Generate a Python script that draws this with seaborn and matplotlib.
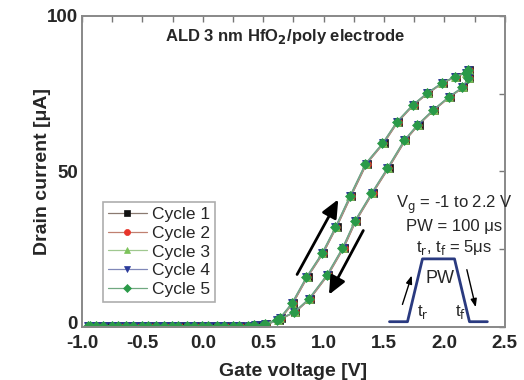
import numpy as np
import pandas as pd
import matplotlib
matplotlib.use("Agg")
import matplotlib.pyplot as plt
import matplotlib.transforms as mtrans
import seaborn as sns

# ---- data ----
v_up = [-0.95, -0.82, -0.70, -0.57, -0.45, -0.32, -0.20, -0.07, 0.05, 0.18, 0.30, 0.43,
        0.52, 0.64, 0.74, 0.86, 0.99, 1.10, 1.22, 1.35, 1.49, 1.61, 1.74, 1.86, 1.98,
        2.09, 2.18, 2.20]
i_up = [0.3, 0.2, 0.3, 0.2, 0.3, 0.2, 0.3, 0.2, 0.3, 0.3, 0.3, 0.5,
        1.0, 2.8, 7.6, 16.0, 23.7, 32.0, 42.0, 52.5, 59.0, 66.0, 71.4, 75.2, 78.4,
        80.5, 81.8, 82.5]
v_down = [2.20, 2.15, 2.04, 1.91, 1.78, 1.67, 1.53, 1.40, 1.26, 1.16, 1.03, 0.88,
          0.76, 0.62, 0.50, 0.38, 0.25, 0.12, 0.00, -0.13, -0.25, -0.38, -0.50,
          -0.63, -0.75, -0.88, -0.93]
i_down = [80.0, 77.0, 74.0, 69.8, 65.0, 60.0, 51.0, 43.0, 34.0, 25.4, 16.7, 9.0,
          4.8, 2.2, 0.5, 0.3, 0.2, 0.3, 0.2, 0.3, 0.2, 0.3, 0.2, 0.3, 0.2, 0.3, 0.2]

cycles = ["Cycle 1", "Cycle 2", "Cycle 3", "Cycle 4", "Cycle 5"]
cycle_shift = [0.007, 0.005, 0.0, -0.002, -0.004]   # small visible offsets between cycles (V)
cycle_markers = ["s", "o", "^", "v", "D"]
cycle_colors = ["#111111", "#e8342a", "#7cc35a", "#2a3a9a", "#2a9a48"]
line_colors = ["#8a7a70", "#c08070", "#a0c890", "#8088b8", "#70a880"]

pulse_t = [1.545, 1.694, 1.818, 2.083, 2.207, 2.355]
pulse_v = [1.7, 1.7, 21.9, 21.9, 1.7, 1.7]

sns.set_theme(style="white")
plt.rcParams["font.family"] = ["Liberation Sans", "DejaVu Sans"]

fig = plt.figure(figsize=(5.24, 3.80), dpi=100)
ax = fig.add_axes([0.1565, 0.1395, 0.807, 0.8185])

v_loop = v_up + v_down
i_loop = i_up + i_down
for name, sh, mk, c, lc in zip(cycles, cycle_shift, cycle_markers, cycle_colors, line_colors):
    df = pd.DataFrame({"V": [v + sh for v in v_loop], "I": i_loop})
    sns.lineplot(data=df, x="V", y="I", sort=False, estimator=None, ax=ax,
                 color=lc, lw=0.9, marker=mk, markersize=5.5 if mk != "D" else 5,
                 markerfacecolor=c, markeredgecolor=c, markeredgewidth=0.5, label=name)

# legend with coloured line handles
leg = ax.legend(loc="upper left", bbox_to_anchor=(0.05, 0.402), frameon=True,
                fontsize=12.5, handlelength=2.2, handletextpad=0.3, labelspacing=0.2,
                borderpad=0.3, fancybox=False, edgecolor="#999999", borderaxespad=0,
                markerscale=0.8)
leg.get_frame().set_linewidth(1.2)

ax.set_xlim(-1.0, 2.5)
ax.set_ylim(0, 100)
ax.set_xticks([-1.0, -0.5, 0.0, 0.5, 1.0, 1.5, 2.0, 2.5])
ax.set_xticks([-0.75, -0.25, 0.25, 0.75, 1.25, 1.75, 2.25], minor=True)
ax.set_yticks([0, 50, 100])
ax.set_yticks([25, 75], minor=True)
ax.set_xticklabels(["-1.0", "-0.5", "0.0", "0.5", "1.0", "1.5", "2.0", "2.5"])
ax.tick_params(which="both", direction="in", top=True, right=True, length=4,
               width=1, color="#777777", labelsize=13.5)
ax.tick_params(axis="x", pad=6)
ax.tick_params(axis="y", pad=3)
for lab in ax.get_xticklabels() + ax.get_yticklabels():
    lab.set_fontweight("bold")
for s in ax.spines.values():
    s.set_color("#888888")
    s.set_linewidth(1.4)

# lift the "0" label a touch so it does not collide with "-1.0"
zero_lab = ax.yaxis.get_major_ticks()[0].label1
zero_lab.set_transform(zero_lab.get_transform() +
                       mtrans.ScaledTranslation(0, 3.5 / 72, fig.dpi_scale_trans))

ax.set_xlabel("Gate voltage [V]", fontsize=14, fontweight="bold", labelpad=8)
ax.set_ylabel("Drain current [\u03bcA]", fontsize=14, fontweight="bold", labelpad=-3)

ax.text(0.48, 0.935, "ALD 3 nm HfO$_\\mathbf{2}$/poly electrode", transform=ax.transAxes,
        ha="center", va="center", fontsize=12, fontweight="bold")

# big sweep arrows
ax.annotate("", xy=(1.132, 41.8), xytext=(0.769, 16.1),
            arrowprops=dict(arrowstyle="-|>,head_length=0.9,head_width=0.4", color="black", lw=2))
ax.annotate("", xy=(1.033, 9.6), xytext=(1.339, 31.8),
            arrowprops=dict(arrowstyle="-|>,head_length=0.9,head_width=0.4", color="black", lw=2))

# pulse inset annotation
ax.text(2.08, 39.2, "V$_\\mathrm{g}$ = -1 to 2.2 V", ha="center", va="center", fontsize=12)
ax.text(2.08, 32.3, "PW = 100 \u03bcs", ha="center", va="center", fontsize=12)
ax.text(2.08, 25.6, "t$_\\mathrm{r}$, t$_\\mathrm{f}$ = 5\u03bcs", ha="center", va="center", fontsize=12)
ax.plot(pulse_t, pulse_v, color="#2a3a80", lw=2)
ax.text(1.96, 15.5, "PW", ha="center", va="center", fontsize=13)
ax.text(1.82, 4.8, "t$_\\mathrm{r}$", ha="center", va="center", fontsize=12)
ax.text(2.13, 4.8, "t$_\\mathrm{f}$", ha="center", va="center", fontsize=12)
ax.annotate("", xy=(1.736, 17.4), xytext=(1.645, 6.4),
            arrowprops=dict(arrowstyle="-|>,head_length=0.4,head_width=0.15", color="black", lw=1))
ax.annotate("", xy=(2.264, 5.5), xytext=(2.18, 19.3),
            arrowprops=dict(arrowstyle="-|>,head_length=0.4,head_width=0.15", color="black", lw=1))

fig.savefig("out.png", dpi=100)
